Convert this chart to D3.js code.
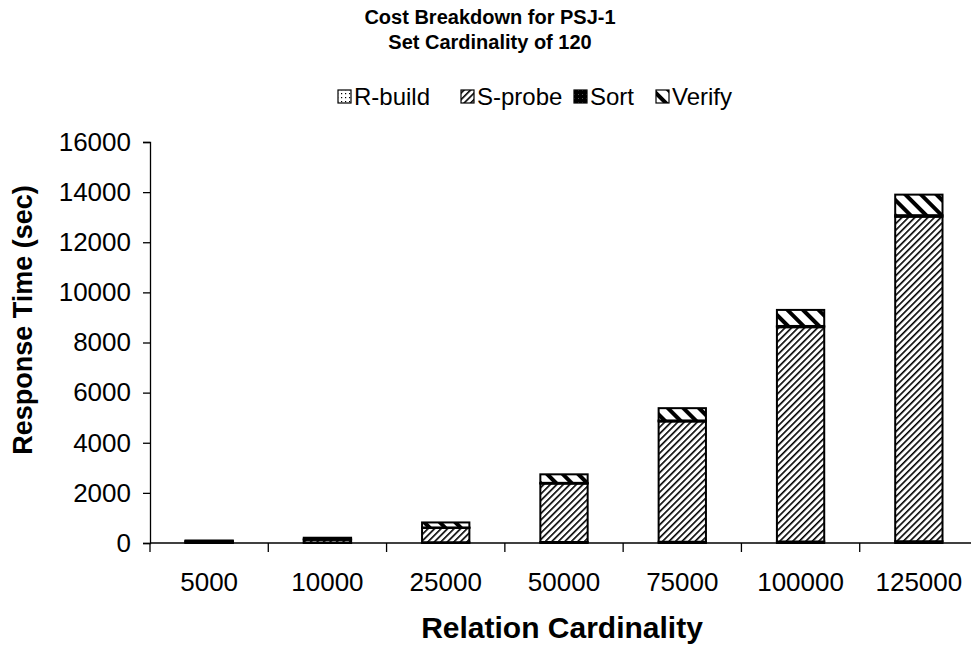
<!DOCTYPE html>
<html>
<head>
<meta charset="utf-8">
<script src="https://cdn.jsdelivr.net/npm/d3@7"></script>
<style>
  html, body { margin: 0; padding: 0; background: #fff; }
  svg { display: block; font-family: "Liberation Sans", Arial, sans-serif; }
</style>
</head>
<body>
<svg id="chart" width="971" height="646"></svg>
<script>
// Relation cardinalities (x categories)
const categories = ["5000", "10000", "25000", "50000", "75000", "100000", "125000"];
// Cost components in seconds, stacked bottom to top
const seriesNames = ["R-build", "S-probe", "Sort", "Verify"];
const rBuild = [10, 20, 30, 40, 50, 60, 70];
const sProbe = [50, 110, 570, 2330, 4800, 8550, 12950];
const sortCost = [10, 20, 20, 30, 40, 50, 60];
const verify = [30, 60, 200, 340, 490, 640, 820];
const yTicks = [0, 2000, 4000, 6000, 8000, 10000, 12000, 14000, 16000];

const svg = d3.select("#chart");
const margin = { left: 150, right: -7, top: 142, bottom: 103 };
const W = 971, H = 646;
const plotW = W - margin.left - margin.right;
const plotH = H - margin.top - margin.bottom;

// patterns for the four series
const defs = svg.append("defs");
// R-build: fine dots
const pDots = defs.append("pattern").attr("id", "pat-rbuild")
  .attr("patternUnits", "userSpaceOnUse").attr("width", 4).attr("height", 4);
pDots.append("rect").attr("width", 4).attr("height", 4).attr("fill", "#fff");
pDots.append("rect").attr("x", 1).attr("y", 1).attr("width", 1.2).attr("height", 1.2).attr("fill", "#000");
// S-probe: dense forward diagonal
const pFwd = defs.append("pattern").attr("id", "pat-sprobe")
  .attr("patternUnits", "userSpaceOnUse").attr("width", 4.6).attr("height", 4.6)
  .attr("patternTransform", "rotate(45)");
pFwd.append("rect").attr("width", 4.6).attr("height", 4.6).attr("fill", "#fff");
pFwd.append("rect").attr("x", 0).attr("y", 0).attr("width", 1.6).attr("height", 4.6).attr("fill", "#000");
// Sort: solid black
const pSort = defs.append("pattern").attr("id", "pat-sort")
  .attr("patternUnits", "userSpaceOnUse").attr("width", 4).attr("height", 4);
pSort.append("rect").attr("width", 4).attr("height", 4).attr("fill", "#000");
pSort.append("rect").attr("x", 2).attr("y", 2).attr("width", 1).attr("height", 1).attr("fill", "#555");
// Verify: wide backward diagonal
const pBack = defs.append("pattern").attr("id", "pat-verify")
  .attr("patternUnits", "userSpaceOnUse").attr("width", 11).attr("height", 11)
  .attr("patternTransform", "rotate(-45)");
pBack.append("rect").attr("width", 11).attr("height", 11).attr("fill", "#fff");
pBack.append("rect").attr("x", 0).attr("y", 0).attr("width", 4).attr("height", 11).attr("fill", "#000");

const fills = ["url(#pat-rbuild)", "url(#pat-sprobe)", "url(#pat-sort)", "url(#pat-verify)"];

// title
const title = svg.append("g").attr("font-weight", "bold").attr("font-size", 20).attr("text-anchor", "middle");
title.append("text").attr("x", 490).attr("y", 24).text("Cost Breakdown for PSJ-1");
title.append("text").attr("x", 490).attr("y", 49).text("Set Cardinality of 120");

// legend
const legendX = [338, 461, 574, 656];
const lg = svg.append("g");
seriesNames.forEach((name, i) => {
  lg.append("rect").attr("x", legendX[i]).attr("y", 90).attr("width", 13).attr("height", 13)
    .attr("fill", fills[i]).attr("stroke", "#000").attr("stroke-width", 1.2);
  lg.append("text").attr("x", legendX[i] + 16).attr("y", 105).attr("font-size", 24)
    .text(name);
});

const g = svg.append("g").attr("transform", `translate(${margin.left},${margin.top})`);

const x = d3.scaleBand().domain(categories).range([0, plotW]).paddingInner(0.6).paddingOuter(0.3);
const y = d3.scaleLinear().domain([0, 16000]).range([plotH, 0]);

// stacked data
const rows = categories.map((c, i) => ({
  cat: c, "R-build": rBuild[i], "S-probe": sProbe[i], "Sort": sortCost[i], "Verify": verify[i]
}));
const stacked = d3.stack().keys(seriesNames)(rows);

stacked.forEach((layer, li) => {
  g.append("g").selectAll("rect").data(layer).join("rect")
    .attr("x", d => x(d.data.cat))
    .attr("width", x.bandwidth())
    .attr("y", d => y(d[1]))
    .attr("height", d => Math.max(0, y(d[0]) - y(d[1])))
    .attr("fill", fills[li])
    .attr("stroke", "#000").attr("stroke-width", 2);
});

// y axis
const yAxis = d3.axisLeft(y).tickValues(yTicks).tickSize(7).tickPadding(12).tickFormat(d3.format("d"));
const ya = g.append("g").call(yAxis);
ya.select(".domain").attr("stroke", "#000").attr("stroke-width", 1.3);
ya.selectAll(".tick line").attr("stroke", "#000").attr("stroke-width", 1.3);
ya.selectAll(".tick text").attr("font-size", 26).attr("fill", "#000")
  .attr("font-family", "Liberation Sans, Arial, sans-serif");

// x axis: baseline with ticks between categories
const step = x.step();
g.append("line").attr("x1", 0).attr("x2", plotW).attr("y1", plotH).attr("y2", plotH)
  .attr("stroke", "#000").attr("stroke-width", 1.3);
const bounds = d3.range(categories.length + 1).map(i => i * step);
g.append("g").selectAll("line").data(bounds).join("line")
  .attr("x1", d => d).attr("x2", d => d).attr("y1", plotH).attr("y2", plotH + 9)
  .attr("stroke", "#000").attr("stroke-width", 1.3);
g.append("g").selectAll("text").data(categories).join("text")
  .attr("x", d => x(d) + x.bandwidth() / 2)
  .attr("y", plotH + 48)
  .attr("text-anchor", "middle").attr("font-size", 26)
  .text(d => d);

// axis titles
svg.append("text").attr("x", 562).attr("y", 638).attr("text-anchor", "middle")
  .attr("font-weight", "bold").attr("font-size", 30).text("Relation Cardinality");
svg.append("text").attr("transform", "translate(32,320) rotate(-90)").attr("text-anchor", "middle")
  .attr("font-weight", "bold").attr("font-size", 27).text("Response Time (sec)");
</script>
</body>
</html>
